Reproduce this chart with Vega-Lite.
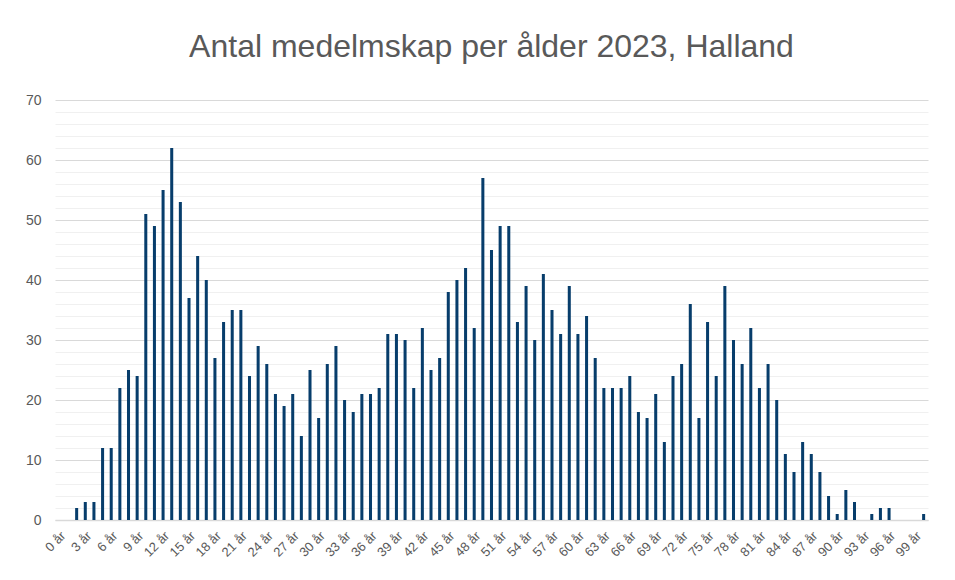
{
  "$schema": "https://vega.github.io/schema/vega-lite/v6.json",
  "width": 873,
  "height": 420,
  "autosize": {"type": "none"},
  "padding": {"left": 55, "top": 100, "right": 27, "bottom": 60},
  "background": "white",
  "title": {
    "text": "Antal medelmskap per ålder 2023, Halland",
    "font": "Liberation Sans",
    "fontSize": 32,
    "fontWeight": "normal",
    "color": "#595959",
    "anchor": "middle",
    "offset": 29
  },
  "config": {
    "view": {"stroke": null},
    "font": "Liberation Sans"
  },
  "data": {
    "values": [
      {"age": "0 år", "n": 0}, {"age": "1 år", "n": 0}, {"age": "2 år", "n": 2}, {"age": "3 år", "n": 3},
      {"age": "4 år", "n": 3}, {"age": "5 år", "n": 12}, {"age": "6 år", "n": 12}, {"age": "7 år", "n": 22},
      {"age": "8 år", "n": 25}, {"age": "9 år", "n": 24}, {"age": "10 år", "n": 51}, {"age": "11 år", "n": 49},
      {"age": "12 år", "n": 55}, {"age": "13 år", "n": 62}, {"age": "14 år", "n": 53}, {"age": "15 år", "n": 37},
      {"age": "16 år", "n": 44}, {"age": "17 år", "n": 40}, {"age": "18 år", "n": 27}, {"age": "19 år", "n": 33},
      {"age": "20 år", "n": 35}, {"age": "21 år", "n": 35}, {"age": "22 år", "n": 24}, {"age": "23 år", "n": 29},
      {"age": "24 år", "n": 26}, {"age": "25 år", "n": 21}, {"age": "26 år", "n": 19}, {"age": "27 år", "n": 21},
      {"age": "28 år", "n": 14}, {"age": "29 år", "n": 25}, {"age": "30 år", "n": 17}, {"age": "31 år", "n": 26},
      {"age": "32 år", "n": 29}, {"age": "33 år", "n": 20}, {"age": "34 år", "n": 18}, {"age": "35 år", "n": 21},
      {"age": "36 år", "n": 21}, {"age": "37 år", "n": 22}, {"age": "38 år", "n": 31}, {"age": "39 år", "n": 31},
      {"age": "40 år", "n": 30}, {"age": "41 år", "n": 22}, {"age": "42 år", "n": 32}, {"age": "43 år", "n": 25},
      {"age": "44 år", "n": 27}, {"age": "45 år", "n": 38}, {"age": "46 år", "n": 40}, {"age": "47 år", "n": 42},
      {"age": "48 år", "n": 32}, {"age": "49 år", "n": 57}, {"age": "50 år", "n": 45}, {"age": "51 år", "n": 49},
      {"age": "52 år", "n": 49}, {"age": "53 år", "n": 33}, {"age": "54 år", "n": 39}, {"age": "55 år", "n": 30},
      {"age": "56 år", "n": 41}, {"age": "57 år", "n": 35}, {"age": "58 år", "n": 31}, {"age": "59 år", "n": 39},
      {"age": "60 år", "n": 31}, {"age": "61 år", "n": 34}, {"age": "62 år", "n": 27}, {"age": "63 år", "n": 22},
      {"age": "64 år", "n": 22}, {"age": "65 år", "n": 22}, {"age": "66 år", "n": 24}, {"age": "67 år", "n": 18},
      {"age": "68 år", "n": 17}, {"age": "69 år", "n": 21}, {"age": "70 år", "n": 13}, {"age": "71 år", "n": 24},
      {"age": "72 år", "n": 26}, {"age": "73 år", "n": 36}, {"age": "74 år", "n": 17}, {"age": "75 år", "n": 33},
      {"age": "76 år", "n": 24}, {"age": "77 år", "n": 39}, {"age": "78 år", "n": 30}, {"age": "79 år", "n": 26},
      {"age": "80 år", "n": 32}, {"age": "81 år", "n": 22}, {"age": "82 år", "n": 26}, {"age": "83 år", "n": 20},
      {"age": "84 år", "n": 11}, {"age": "85 år", "n": 8}, {"age": "86 år", "n": 13}, {"age": "87 år", "n": 11},
      {"age": "88 år", "n": 8}, {"age": "89 år", "n": 4}, {"age": "90 år", "n": 1}, {"age": "91 år", "n": 5},
      {"age": "92 år", "n": 3}, {"age": "93 år", "n": 0}, {"age": "94 år", "n": 1}, {"age": "95 år", "n": 2},
      {"age": "96 år", "n": 2}, {"age": "97 år", "n": 0}, {"age": "98 år", "n": 0}, {"age": "99 år", "n": 0},
      {"age": "100 år", "n": 1}
    ]
  },
  "mark": {"type": "bar", "color": "#073d6b"},
  "encoding": {
    "x": {
      "field": "age",
      "type": "ordinal",
      "sort": null,
      "scale": {"paddingInner": 0.65, "paddingOuter": 0.33},
      "axis": {
        "title": null,
        "values": ["0 år","3 år","6 år","9 år","12 år","15 år","18 år","21 år","24 år","27 år","30 år","33 år","36 år","39 år","42 år","45 år","48 år","51 år","54 år","57 år","60 år","63 år","66 år","69 år","72 år","75 år","78 år","81 år","84 år","87 år","90 år","93 år","96 år","99 år"],
        "labelAngle": -45,
        "labelFontSize": 13,
        "labelColor": "#595959",
        "labelPadding": 9,
        "ticks": false,
        "domainColor": "#d9d9d9",
        "domainWidth": 1.5
      }
    },
    "y": {
      "field": "n",
      "type": "quantitative",
      "scale": {"domain": [0, 70], "nice": false},
      "axis": {
        "title": null,
        "values": [0,2,4,6,8,10,12,14,16,18,20,22,24,26,28,30,32,34,36,38,40,42,44,46,48,50,52,54,56,58,60,62,64,66,68,70],
        "labelExpr": "datum.value % 10 === 0 ? datum.label : ''",
        "labelFontSize": 14,
        "labelColor": "#595959",
        "labelPadding": 14,
        "ticks": false,
        "domain": false,
        "gridColor": {"condition": {"test": "datum.value % 10 === 0", "value": "#d9d9d9"}, "value": "#f0f0f0"},
        "gridWidth": 1
      }
    }
  }
}
